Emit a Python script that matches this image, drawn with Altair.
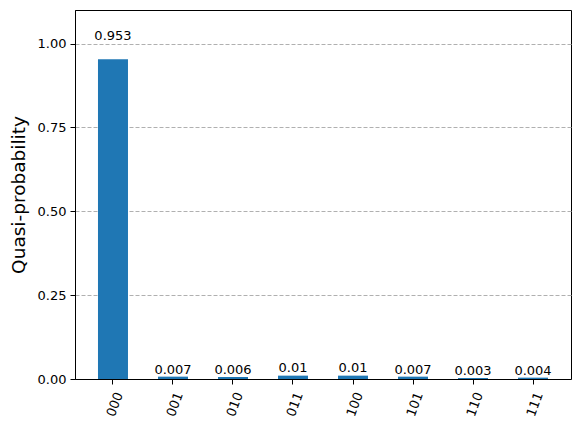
import altair as alt
import pandas as pd

states = ["000", "001", "010", "011", "100", "101", "110", "111"]
probs = [0.953, 0.007, 0.006, 0.01, 0.01, 0.007, 0.003, 0.004]
labels = ["0.953", "0.007", "0.006", "0.01", "0.01", "0.007", "0.003", "0.004"]

df = pd.DataFrame({"state": states, "prob": probs, "label": labels})

FONT = "DejaVu Sans"

x_enc = alt.X(
    "state:N",
    sort=states,
    scale=alt.Scale(paddingInner=0.5, paddingOuter=0.383),
    axis=alt.Axis(
        title=None,
        labelAngle=290,
        labelAlign="center",
        labelBaseline="middle",
        labelPadding=20,
        labelOffset=2,
        labelFontSize=13,
        labelFont=FONT,
        labelColor="black",
        tickSize=5,
        tickColor="black",
        domainColor="black",
        grid=False,
    ),
)

y_scale = alt.Scale(domain=[0, 1.1], nice=False)

bars = alt.Chart(df).mark_bar(color="#1f77b4").encode(
    x=x_enc,
    y=alt.Y(
        "prob:Q",
        scale=y_scale,
        axis=alt.Axis(
            title="Quasi-probability",
            titleFont=FONT,
            titleFontSize=18.5,
            titleFontWeight="normal",
            titleColor="black",
            titlePadding=9,
            values=[0, 0.25, 0.5, 0.75, 1.0],
            format=".2f",
            labelFont=FONT,
            labelFontSize=13,
            labelColor="black",
            labelPadding=4,
            tickSize=5,
            tickColor="black",
            domainColor="black",
            grid=True,
            gridColor="#b0b0b0",
            gridDash=[4, 2],
            gridWidth=1,
        ),
    ),
)

text = alt.Chart(df).transform_calculate(
    ly="datum.prob * 1.05"
).mark_text(
    font=FONT, fontSize=13, color="black", align="center", baseline="bottom"
).encode(
    x=alt.X("state:N", sort=states),
    y=alt.Y("ly:Q", scale=y_scale),
    text="label:N",
)

chart = alt.layer(bars, text).properties(
    width=496,
    height=369,
    background="white",
    autosize=alt.AutoSizeParams(type="none"),
    padding={"left": 67, "top": 2, "right": 2, "bottom": 50},
).configure_view(
    stroke="black", strokeWidth=1
)

chart.save("out.html", embed_options={"renderer": "svg", "actions": False})
